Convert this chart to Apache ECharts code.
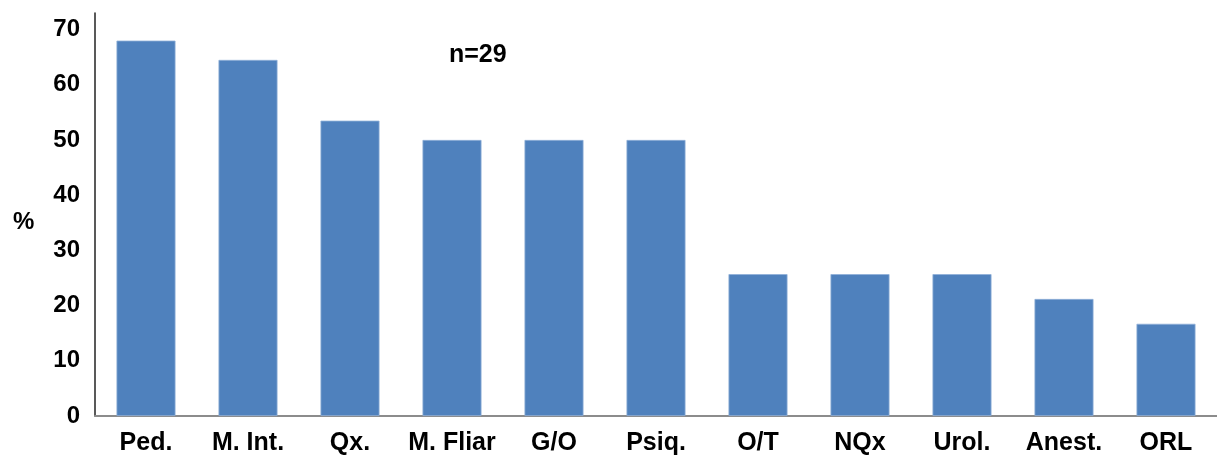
<!DOCTYPE html>
<html>
<head>
<meta charset="utf-8">
<script src="https://cdn.jsdelivr.net/npm/echarts@6/dist/echarts.min.js"></script>
<style>
  html, body { margin: 0; padding: 0; background: #fff; }
  #chart { width: 1217px; height: 456px; }
</style>
</head>
<body>
<div id="chart"></div>
<script>
// Specialties and share of respondents (%)
const categories = ['Ped.', 'M. Int.', 'Qx.', 'M. Fliar', 'G/O', 'Psiq.', 'O/T', 'NQx', 'Urol.', 'Anest.', 'ORL'];
const values = [68, 64.5, 53.5, 50, 50, 50, 25.7, 25.7, 25.7, 21.2, 16.7];
const yTicks = [0, 10, 20, 30, 40, 50, 60, 70];
const sampleLabel = 'n=29';
const unitLabel = '%';

const font = '"Liberation Sans", Arial, sans-serif';
const chart = echarts.init(document.getElementById('chart'), null, { renderer: 'canvas' });

chart.setOption({
  animation: false,
  backgroundColor: '#ffffff',
  title: [
    { text: sampleLabel, left: 444, top: 38,
      textStyle: { fontFamily: font, fontSize: 25, fontWeight: 'bold', color: '#000' } },
    { text: unitLabel, left: 8, top: 205,
      textStyle: { fontFamily: font, fontSize: 24, fontWeight: 'bold', color: '#000' } }
  ],
  grid: { left: 95, top: 13, bottom: 40, width: 1131 },
  xAxis: {
    type: 'category',
    data: categories,
    axisLine: { show: true, lineStyle: { color: '#8c8c8c', width: 2 } },
    axisTick: { show: false },
    axisLabel: {
      interval: 0, margin: 15, color: '#000',
      fontFamily: font, fontSize: 25, fontWeight: 'bold'
    }
  },
  yAxis: {
    type: 'value',
    min: yTicks[0],
    max: 73,
    interval: yTicks[1] - yTicks[0],
    axisLine: { show: true, lineStyle: { color: '#222', width: 1.5 } },
    axisTick: { show: false },
    splitLine: { show: false },
    axisLabel: {
      margin: 15, color: '#000', showMaxLabel: false,
      fontFamily: font, fontSize: 24, fontWeight: 'bold',
      formatter: v => (yTicks.includes(v) ? String(v) : '')
    }
  },
  series: [{
    type: 'bar',
    data: values,
    barWidth: 59,
    itemStyle: { color: '#4f81bd', borderColor: '#8fb0d8', borderWidth: 0.8 }
  }]
});
</script>
</body>
</html>
